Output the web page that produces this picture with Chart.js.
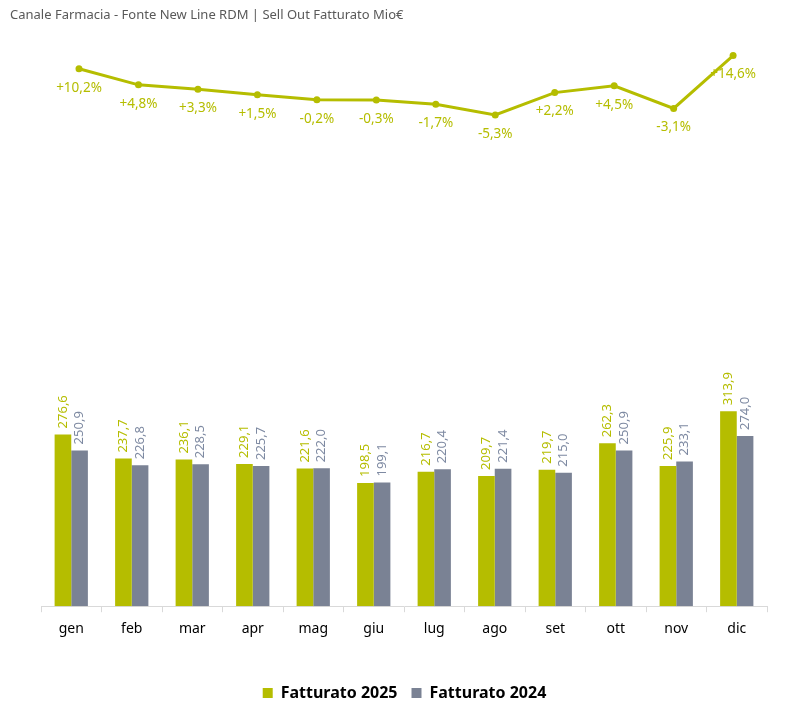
<!DOCTYPE html>
<html>
<head>
<meta charset="utf-8">
<script src="https://cdn.jsdelivr.net/npm/chart.js@4.4.1/dist/chart.umd.min.js"></script>
<style>
  html, body { margin: 0; padding: 0; background: #fff; }
  #wrap { position: relative; width: 799px; height: 721px; }
  #barre { position: absolute; left: 0; top: 0; width: 799px; height: 721px; }
  #linea { position: absolute; left: 0; top: 0; width: 799px; height: 150px; pointer-events: none; }
</style>
</head>
<body>
<div id="wrap">
  <div id="barre"><canvas id="graficoBarre"></canvas></div>
  <div id="linea"><canvas id="graficoLinea"></canvas></div>
</div>
<script>
// dati
const mesi = ["gen", "feb", "mar", "apr", "mag", "giu", "lug", "ago", "set", "ott", "nov", "dic"];
const fatturato2025 = [276.6, 237.7, 236.1, 229.1, 221.6, 198.5, 216.7, 209.7, 219.7, 262.3, 225.9, 313.9];
const fatturato2024 = [250.9, 226.8, 228.5, 225.7, 222.0, 199.1, 220.4, 221.4, 215.0, 250.9, 233.1, 274.0];
const crescita = [10.2, 4.8, 3.3, 1.5, -0.2, -0.3, -1.7, -5.3, 2.2, 4.5, -3.1, 14.6];

const VERDE = "#B5BD00";
const GRIGIO = "#7A8294";
const FONT = "'Noto Sans', sans-serif";

const virgola = v => v.toFixed(1).replace(".", ",");

// valori ruotati sopra le barre
const etichetteBarre = {
  id: "etichetteBarre",
  afterDatasetsDraw(chart) {
    const ctx = chart.ctx;
    chart.data.datasets.forEach((ds, i) => {
      chart.getDatasetMeta(i).data.forEach((el, j) => {
        ctx.save();
        ctx.font = "13px " + FONT;
        ctx.fillStyle = i === 0 ? VERDE : "#7E8AA2";
        ctx.translate(el.x, el.y - 6);
        ctx.rotate(-Math.PI / 2);
        ctx.textAlign = "left";
        ctx.textBaseline = "middle";
        ctx.fillText(virgola(ds.data[j]), 0, 0);
        ctx.restore();
      });
    });
  }
};

// percentuali sotto i punti
const etichetteLinea = {
  id: "etichetteLinea",
  afterDatasetsDraw(chart) {
    const ctx = chart.ctx;
    chart.getDatasetMeta(0).data.forEach((el, j) => {
      const v = crescita[j];
      ctx.save();
      ctx.font = "13.5px " + FONT;
      ctx.fillStyle = VERDE;
      ctx.textAlign = "center";
      ctx.textBaseline = "middle";
      ctx.fillText((v > 0 ? "+" : "") + virgola(v) + "%", el.x, el.y + 19);
      ctx.restore();
    });
  }
};

new Chart(document.getElementById("graficoBarre"), {
  type: "bar",
  data: {
    labels: mesi,
    datasets: [
      {
        label: "Fatturato 2025",
        data: fatturato2025,
        backgroundColor: VERDE
      },
      {
        label: "Fatturato 2024",
        data: fatturato2024,
        backgroundColor: GRIGIO
      }
    ]
  },
  options: {
    responsive: true,
    maintainAspectRatio: false,
    animation: false,
    categoryPercentage: 0.55,
    barPercentage: 1,
    layout: { padding: { left: 10, right: 0, top: 0, bottom: 10 } },
    plugins: {
      title: {
        display: true,
        text: "Canale Farmacia - Fonte New Line RDM | Sell Out Fatturato Mio€",
        align: "start",
        color: "#595959",
        font: { family: FONT, size: 13, weight: "normal" },
        padding: { top: 7, bottom: 16 }
      },
      legend: {
        position: "bottom",
        labels: {
          color: "#000",
          boxWidth: 10,
          boxHeight: 10,
          padding: 14,
          font: { family: FONT, size: 16, weight: "bold" }
        }
      },
      tooltip: { enabled: false }
    },
    scales: {
      x: {
        grid: { display: true, drawOnChartArea: false, tickLength: 6, color: "#d9d9d9", offset: true },
        border: { color: "#d9d9d9" },
        ticks: { color: "#000", font: { family: FONT, size: 14 }, padding: 8 },
        afterFit(scale) { scale.height = scale.height + 26; }
      },
      y: {
        min: 0,
        max: 914,
        afterFit(scale) { scale.width = 31; },
        ticks: { display: false },
        grid: { display: false },
        border: { display: false }
      },
      y2: {
        position: "right",
        afterFit(scale) { scale.width = 32; },
        ticks: { display: false },
        grid: { display: false },
        border: { display: false }
      }
    }
  },
  plugins: [etichetteBarre]
});

new Chart(document.getElementById("graficoLinea"), {
  type: "line",
  data: {
    labels: mesi,
    datasets: [{
      label: "Crescita",
      data: crescita.map((v, i) => ({ x: i, y: v })),
      borderColor: VERDE,
      backgroundColor: VERDE,
      borderWidth: 3,
      pointRadius: 3.5,
      pointBorderWidth: 0,
      pointBackgroundColor: VERDE,
      tension: 0
    }]
  },
  options: {
    responsive: true,
    maintainAspectRatio: false,
    animation: false,
    layout: { padding: { left: 41, right: 32, top: 0, bottom: 0 } },
    plugins: { legend: { display: false }, tooltip: { enabled: false } },
    scales: {
      x: { type: "linear", display: false, min: -0.639, max: 11.57 },
      y: { display: false, min: -15.7, max: 31.9 }
    }
  },
  plugins: [etichetteLinea]
});
</script>
</body>
</html>
